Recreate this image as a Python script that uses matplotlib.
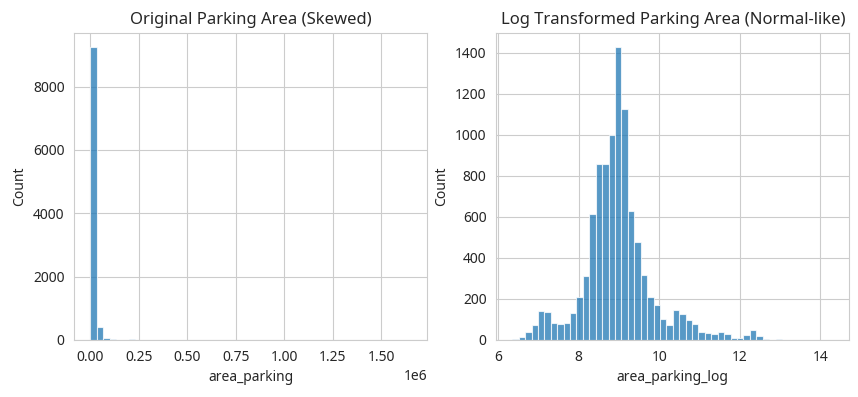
import numpy as np
import matplotlib
matplotlib.use('Agg')
import matplotlib.pyplot as plt
import seaborn as sns

############################################################################################
# Histogram counts (50 bins each)
raw_range = (573.0, 1.655e6)
raw_counts = [9238, 420, 74, 42, 15, 12, 42, 6, 5, 4,
              3, 3, 3, 2, 2, 0, 0, 0, 0, 0,
              0, 0, 0, 0, 0, 0, 1, 0, 0, 0,
              0, 0, 0, 0, 0, 0, 0, 0, 0, 0,
              0, 0, 0, 0, 0, 0, 0, 0, 0, 1]

log_range = (6.35, 14.32)
log_counts = [3, 16, 40, 75, 141, 136, 85, 80, 85, 131,
              208, 314, 615, 858, 858, 1000, 1427, 1125, 628, 478,
              317, 208, 170, 102, 75, 146, 128, 98, 80, 40,
              32, 27, 40, 27, 11, 11, 26, 50, 21, 6,
              2, 6, 2, 2, 0, 1, 1, 1, 0, 1]

############################################################################################
sns.set_style('whitegrid')
plt.rcParams['font.family'] = ['Noto Sans', 'DejaVu Sans']

fig, axes = plt.subplots(1, 2, figsize=(8.58, 3.97), dpi=100)
fig.subplots_adjust(left=0.0866, right=0.9899, bottom=0.1436, top=0.9176, wspace=0.195)

panels = [
    (raw_range, raw_counts, 'area_parking', 'Original Parking Area (Skewed)'),
    (log_range, log_counts, 'area_parking_log', 'Log Transformed Parking Area (Normal-like)'),
]
for ax, (rng, counts, xlabel, title) in zip(axes, panels):
    edges = np.linspace(rng[0], rng[1], len(counts) + 1)
    centers = (edges[:-1] + edges[1:]) / 2
    # seaborn histplot look: C0 at alpha .75, white edges
    ax.hist(centers, bins=edges, weights=counts, color='C0', alpha=0.75,
            edgecolor='white', linewidth=0.8)
    ax.set_title(title, fontsize=12)
    ax.set_xlabel(xlabel, fontsize=10)
    ax.set_ylabel('Count', fontsize=10)
    ax.tick_params(labelsize=10)

axes[1].set_xticks([6, 8, 10, 12, 14])

plt.savefig('out.png', dpi=100)
